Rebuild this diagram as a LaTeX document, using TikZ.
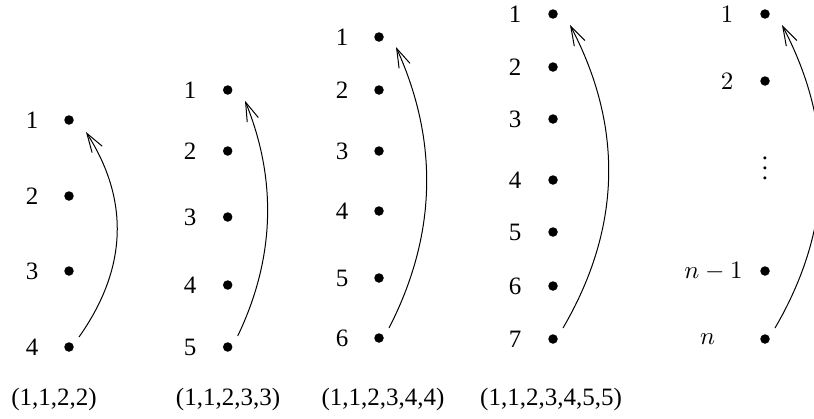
\documentclass[tikz,border=0pt]{standalone}
\usepackage{fontspec}
\setmainfont{Liberation Serif}
\usetikzlibrary{arrows.meta,calc}
\begin{document}
\begin{tikzpicture}[x=1pt,y=-1pt,
  dotn/.style={circle,fill=black,inner sep=0pt,minimum size=9.5pt},
  lab/.style={scale=2.5,inner sep=0pt},
  captxt/.style={scale=2.5,inner sep=0pt,anchor=base},
  arr/.style={line width=1pt,-{Straight Barb[length=19pt,width=12pt]}}]
\useasboundingbox (0,0) rectangle (814,418);
\clip (0,0) rectangle (814,418);
% column 1
\node[dotn] (a1) at (69,120) {};
\node[dotn] (a2) at (69,196) {};
\node[dotn] (a3) at (69,271) {};
\node[dotn] (a4) at (69,347) {};
\node[lab] (la1) at (32,120) {1};
\node[lab] (la2) at (32,196) {2};
\node[lab] (la3) at (32,271) {3};
\node[lab] (la4) at (32,347) {4};
\node[captxt] (ca) at (54,405) {(1,1,2,2)};
\draw[arr] ($(a4)+(10,-10)$) .. controls ($(a4)+(58.3,-78.3)$) and ($(a1)+(60.7,80.3)$) .. ($(a1)+(17,12)$);
% column 2
\node[dotn] (b1) at (227.7,90) {};
\node[dotn] (b2) at (227.7,151) {};
\node[dotn] (b3) at (227.7,217) {};
\node[dotn] (b4) at (227.7,285) {};
\node[dotn] (b5) at (227.7,347) {};
\node[lab] (lb1) at (190,90) {1};
\node[lab] (lb2) at (190,151) {2};
\node[lab] (lb3) at (190,217) {3};
\node[lab] (lb4) at (190,285) {4};
\node[lab] (lb5) at (190,347) {5};
\node[captxt] (cb) at (228,405) {(1,1,2,3,3)};
\draw[arr] ($(b5)+(10,-11)$) .. controls ($(b5)+(47.1,-88.4)$) and ($(b1)+(49.6,90.1)$) .. ($(b1)+(17.3,10.7)$);
% column 3
\node[dotn] (c1) at (379,37) {};
\node[dotn] (c2) at (379,90) {};
\node[dotn] (c3) at (379,151) {};
\node[dotn] (c4) at (379,211) {};
\node[dotn] (c5) at (379,278) {};
\node[dotn] (c6) at (379,338) {};
\node[lab] (lc1) at (342,37) {1};
\node[lab] (lc2) at (342,90) {2};
\node[lab] (lc3) at (342,151) {3};
\node[lab] (lc4) at (342,211) {4};
\node[lab] (lc5) at (342,278) {5};
\node[lab] (lc6) at (342,338) {6};
\node[captxt] (cc) at (383,405) {(1,1,2,3,4,4)};
\draw[arr] ($(c6)+(10,-10)$) .. controls ($(c6)+(57.6,-102.6)$) and ($(c1)+(60,104.8)$) .. ($(c1)+(17,10)$);
% column 4
\node[dotn] (d1) at (553,14) {};
\node[dotn] (d2) at (553,67) {};
\node[dotn] (d3) at (553,119) {};
\node[dotn] (d4) at (553,180) {};
\node[dotn] (d5) at (553,232) {};
\node[dotn] (d6) at (553,286) {};
\node[dotn] (d7) at (553,339) {};
\node[lab] (ld1) at (515,14) {1};
\node[lab] (ld2) at (515,67) {2};
\node[lab] (ld3) at (515,119) {3};
\node[lab] (ld4) at (515,180) {4};
\node[lab] (ld5) at (515,232) {5};
\node[lab] (ld6) at (515,286) {6};
\node[lab] (ld7) at (515,339) {7};
\node[captxt] (cd) at (551,405) {(1,1,2,3,4,5,5)};
\draw[arr] ($(d7)+(10,-11)$) .. controls ($(d7)+(68.4,-111)$) and ($(d1)+(70.6,113)$) .. ($(d1)+(17,11)$);
% column 5
\node[dotn] (e1) at (765,14) {};
\node[dotn] (e2) at (765,81) {};
\node[dotn] (em) at (765,271) {};
\node[dotn] (en) at (765,339) {};
\node[lab] (le1) at (727,14) {$1$};
\node[lab] (le2) at (727,81) {$2$};
\node[lab,anchor=east] (lem) at (743,271) {$n-1$};
\node[lab] (len) at (707.5,339) {$n$};
\node[lab,anchor=base] (evd) at (765,179.5) {$\vdots$};
\draw[arr] ($(en)+(10,-11)$) .. controls ($(en)+(68.4,-111)$) and ($(e1)+(70.6,113)$) .. ($(e1)+(17,11)$);
\end{tikzpicture}
\end{document}
